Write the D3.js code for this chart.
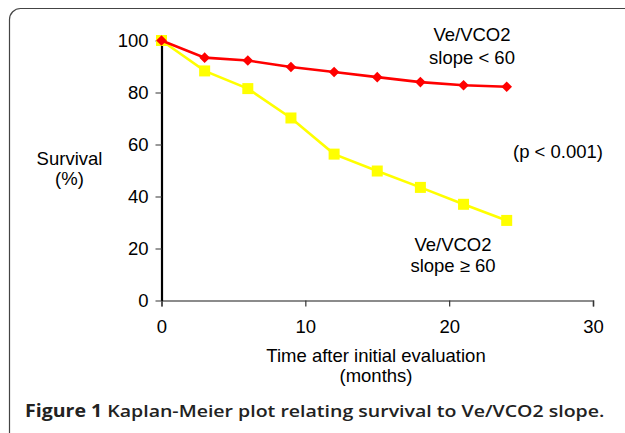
<!DOCTYPE html>
<html>
<head>
<meta charset="utf-8">
<script src="https://cdn.jsdelivr.net/npm/d3@7"></script>
<style>
  html, body { margin: 0; padding: 0; background: #fff; }
  svg { display: block; }
  text { fill: #000; }
</style>
</head>
<body>
<svg id="chart" width="625" height="433"></svg>
<script>
// ---- data ----
const months = [0, 3, 6, 9, 12, 15, 18, 21, 24];
const survivalLow = [100, 93.4, 92.3, 89.8, 87.9, 85.9, 84.0, 82.8, 82.2];   // Ve/VCO2 slope < 60
const survivalHigh = [100, 88.3, 81.5, 70.2, 56.3, 49.8, 43.5, 37.0, 30.8];  // Ve/VCO2 slope >= 60
const xTicks = [0, 10, 20, 30];
const yTicks = [0, 20, 40, 60, 80, 100];

const sans = "'Liberation Sans', Arial, Helvetica, sans-serif";
const svg = d3.select("#chart");

// frame
svg.append("rect")
  .attr("x", 9.5).attr("y", 8.5)
  .attr("width", 700).attr("height", 436)
  .attr("rx", 11).attr("ry", 11)
  .attr("fill", "none").attr("stroke", "#444").attr("stroke-width", 1.2);

const x = d3.scaleLinear().domain([0, 30]).range([161.5, 593]);
const y = d3.scaleLinear().domain([0, 100]).range([300.5, 40.5]);

// x axis
const xAxis = svg.append("g").attr("transform", `translate(0,${y(0)})`)
  .call(d3.axisBottom(x).tickValues(xTicks).tickSize(6).tickPadding(13).tickFormat(d3.format("d")));
xAxis.select(".domain").attr("stroke", "#666").attr("stroke-width", 1.6);
xAxis.selectAll(".tick line").attr("stroke", "#333").attr("stroke-width", 1.2);
xAxis.selectAll(".tick text").style("font-size", "18.5px").style("font-family", sans).style("fill", "#000");

// y axis
const yAxis = svg.append("g").attr("transform", `translate(${x(0)},0)`)
  .call(d3.axisLeft(y).tickValues(yTicks).tickSize(6).tickPadding(7).tickSizeOuter(0).tickFormat(d3.format("d")));
yAxis.select(".domain").attr("stroke", "#000").attr("stroke-width", 2.2);
yAxis.selectAll(".tick line").attr("stroke", "#555").attr("stroke-width", 1.2);
yAxis.selectAll(".tick text").style("font-size", "18.5px").style("font-family", sans).style("fill", "#000");

// lines
const line = d3.line().x(d => x(d[0])).y(d => y(d[1]));
const highData = months.map((m, i) => [m, survivalHigh[i]]);
const lowData = months.map((m, i) => [m, survivalLow[i]]);

svg.append("path").datum(highData).attr("d", line)
  .attr("fill", "none").attr("stroke", "#ffff00").attr("stroke-width", 2.6);
svg.append("g").selectAll("rect").data(highData).join("rect")
  .attr("x", d => x(d[0]) - 5.5).attr("y", d => y(d[1]) - 5.5)
  .attr("width", 11).attr("height", 11).attr("fill", "#ffff00");

svg.append("path").datum(lowData).attr("d", line)
  .attr("fill", "none").attr("stroke", "#ff0000").attr("stroke-width", 2.6);
svg.append("g").selectAll("path").data(lowData).join("path")
  .attr("d", d3.symbol().type(d3.symbolSquare).size(56))
  .attr("transform", d => `translate(${x(d[0])},${y(d[1])}) rotate(45)`)
  .attr("fill", "#ff0000");

// text labels
function label(txt, cx, by, anchor = "middle", size = 18.5) {
  svg.append("text").attr("x", cx).attr("y", by)
    .attr("text-anchor", anchor)
    .style("font-family", sans).style("font-size", size + "px").style("fill", "#000")
    .text(txt);
}
label("Ve/VCO2", 472, 41);
label("slope < 60", 472, 64);
label("(p < 0.001)", 513, 158, "start");
label("Ve/VCO2", 453, 251);
label("slope \u2265 60", 453, 272);
label("Survival", 69.5, 165);
label("(%)", 69.5, 185);
label("Time after initial evaluation", 376, 362);
label("(months)", 376, 382);

// caption
const capFont = "'Open Sans', 'Noto Sans', sans-serif";
const cap = svg.append("text").attr("x", 25).attr("y", 417)
  .style("font-family", capFont).style("font-size", "17px").style("fill", "#222");
cap.append("tspan").style("font-weight", "bold").style("fill", "#222").text("Figure 1");
cap.append("tspan").style("font-weight", "600").style("fill", "#222").text(" Kaplan-Meier plot relating survival to Ve/VCO2 slope.");
const w = cap.node().getComputedTextLength();
const target = 580;
cap.attr("transform", `translate(25,0) scale(${target / w},1) translate(-25,0)`);
</script>
</body>
</html>
